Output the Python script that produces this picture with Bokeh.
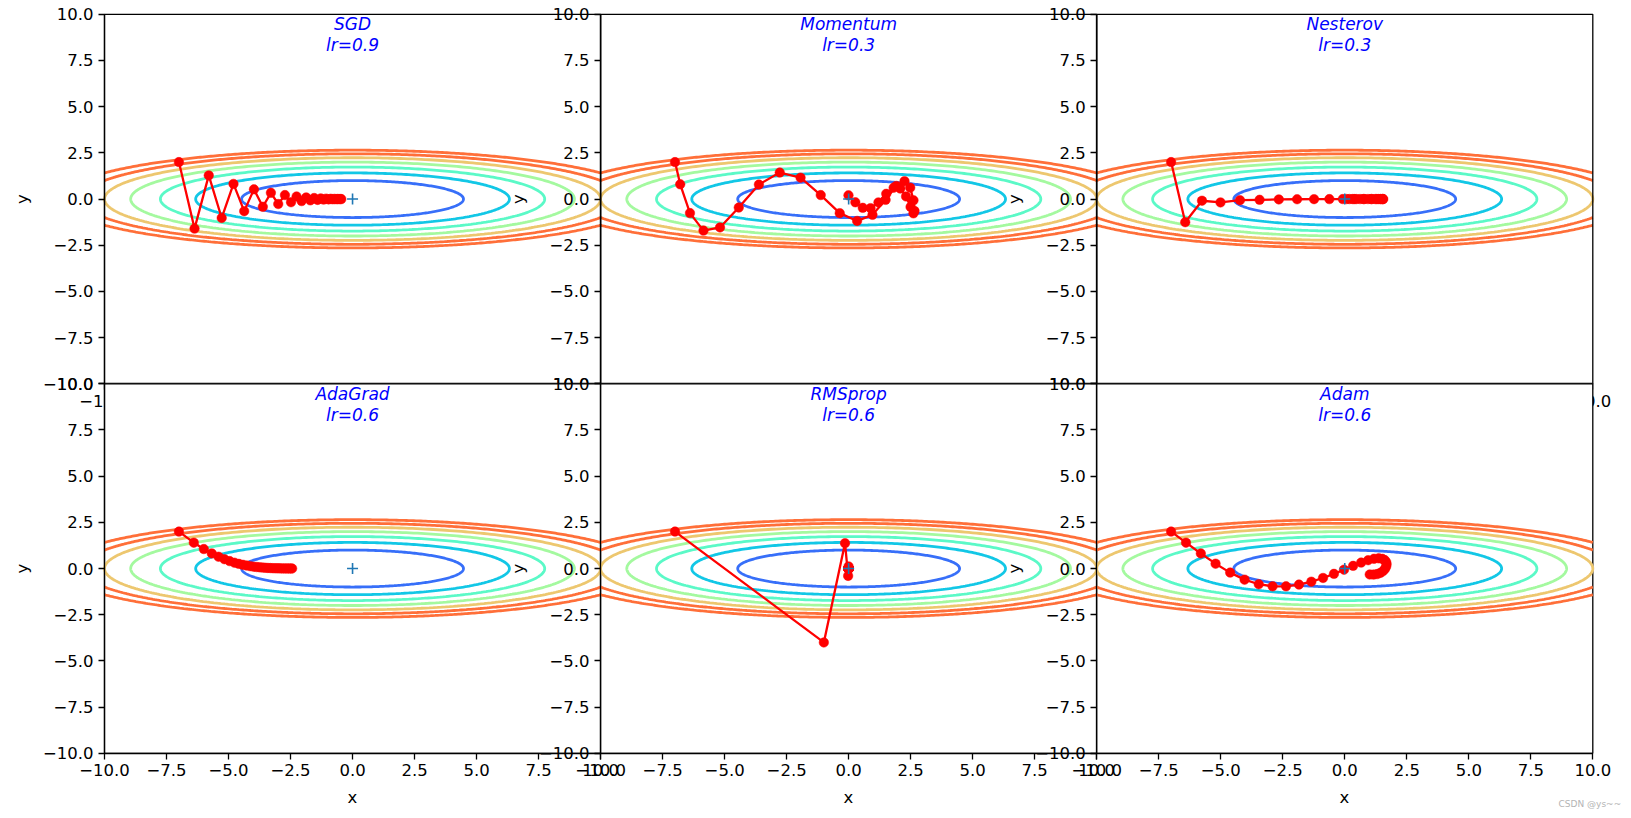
import numpy as np
from bokeh.plotting import figure
from bokeh.models import (Range1d, LinearAxis, FixedTicker, CustomJSTickFormatter,
                          BoxAnnotation, Label)
from bokeh.embed import file_html
from bokeh.resources import INLINE
from bokeh.core.properties import value

# ---------------- data ----------------
optimizer_names = ["SGD", "Momentum", "Nesterov", "AdaGrad", "RMSprop", "Adam"]
learning_rates = [0.9, 0.3, 0.3, 0.6, 0.6, 0.6]

sgd_x = [-7.0, -6.37, -5.797, -5.275, -4.8, -4.368, -3.975, -3.617, -3.292, -2.996,
         -2.726, -2.481, -2.257, -2.054, -1.869, -1.701, -1.548, -1.409, -1.282, -1.167,
         -1.062, -0.966, -0.879, -0.8, -0.728, -0.662, -0.603, -0.549, -0.499, -0.454]
sgd_y = [2.0, -1.6, 1.28, -1.024, 0.819, -0.655, 0.524, -0.419, 0.336, -0.268,
         0.215, -0.172, 0.137, -0.11, 0.088, -0.07, 0.056, -0.045, 0.036, -0.029,
         0.023, -0.018, 0.015, -0.012, 0.009, -0.008, 0.006, -0.005, 0.004, -0.003]

momentum_x = [-7.0, -6.79, -6.397, -5.852, -5.186, -4.43, -3.618, -2.778, -1.938, -1.125,
              -0.359, 0.341, 0.961, 1.49, 1.921, 2.252, 2.482, 2.615, 2.655, 2.613,
              2.496, 2.315, 2.084, 1.813, 1.515, 1.201, 0.882, 0.569, 0.27, -0.007]
momentum_y = [2.0, 0.8, -0.76, -1.708, -1.536, -0.46, 0.785, 1.434, 1.158, 0.215,
              -0.763, -1.185, -0.854, -0.044, 0.712, 0.965, 0.614, -0.071, -0.644, -0.774,
              -0.426, 0.142, 0.569, 0.611, 0.283, -0.183, -0.492, -0.475, -0.175, 0.2]

nesterov_x = [-7.0, -6.431, -5.755, -5.009, -4.225, -3.433, -2.658, -1.921, -1.237, -0.62,
              -0.077, 0.385, 0.766, 1.067, 1.29, 1.44, 1.525, 1.551, 1.527, 1.46,
              1.36, 1.234, 1.09, 0.935, 0.776, 0.617, 0.464, 0.32, 0.189, 0.071]
nesterov_y = [2.0, -1.252, -0.091, -0.183, -0.062, -0.04, -0.019, -0.01, -0.005, -0.003,
              -0.001, -0.001, 0.0, 0.0, 0.0, 0.0, 0.0, 0.0, 0.0, 0.0,
              0.0, 0.0, 0.0, 0.0, 0.0, 0.0, 0.0, 0.0, 0.0, 0.0]

adagrad_x = [-7.0, -6.4, -5.995, -5.675, -5.404, -5.167, -4.955, -4.762, -4.586, -4.422,
             -4.269, -4.126, -3.991, -3.864, -3.743, -3.628, -3.518, -3.414, -3.314, -3.218,
             -3.126, -3.038, -2.953, -2.871, -2.792, -2.716, -2.642, -2.571, -2.502, -2.436]
adagrad_y = [2.0, 1.4, 1.056, 0.818, 0.641, 0.507, 0.402, 0.319, 0.254, 0.203,
             0.162, 0.129, 0.103, 0.082, 0.066, 0.052, 0.042, 0.033, 0.027, 0.021,
             0.017, 0.014, 0.011, 0.009, 0.007, 0.006, 0.004, 0.004, 0.003, 0.002]

rmsprop_x = [-7.0, -1.0, -0.147, -0.021, -0.003, 0.0, 0.0, 0.0, 0.0, 0.0,
             0.0, 0.0, 0.0, 0.0, 0.0, 0.0, 0.0, 0.0, 0.0, 0.0,
             0.0, 0.0, 0.0, 0.0, 0.0, 0.0, 0.0, 0.0, 0.0, 0.0]
rmsprop_y = [2.0, -4.0, 1.372, -0.397, 0.116, -0.034, 0.01, -0.003, 0.001, 0.0,
             0.0, 0.0, 0.0, 0.0, 0.0, 0.0, 0.0, 0.0, 0.0, 0.0,
             0.0, 0.0, 0.0, 0.0, 0.0, 0.0, 0.0, 0.0, 0.0, 0.0]

adam_x = [-7.0, -6.4, -5.802, -5.208, -4.619, -4.038, -3.467, -2.909, -2.367, -1.845,
          -1.346, -0.875, -0.435, -0.029, 0.337, 0.662, 0.943, 1.179, 1.369, 1.513,
          1.612, 1.67, 1.687, 1.668, 1.616, 1.536, 1.43, 1.304, 1.162, 1.007]
adam_y = [2.0, 1.4, 0.815, 0.264, -0.22, -0.6, -0.849, -0.963, -0.961, -0.869,
          -0.711, -0.51, -0.288, -0.063, 0.145, 0.321, 0.452, 0.529, 0.553, 0.527,
          0.457, 0.354, 0.231, 0.098, -0.032, -0.147, -0.239, -0.3, -0.327, -0.322]

paths_x = [sgd_x, momentum_x, nesterov_x, adagrad_x, rmsprop_x, adam_x]
paths_y = [sgd_y, momentum_y, nesterov_y, adagrad_y, rmsprop_y, adam_y]

# contour levels of f(x, y) = x**2 / 20 + y**2 (values above 7 masked)
x_divisor = 20.0
contour_levels = [1, 2, 3, 4, 5, 6]
contour_colors = ["#376ff9", "#12c7e6", "#5bf9c7", "#a4f99f", "#edc76f", "#ff6f39"]
mask_level = 7
mask_color = "#ff6f39"

axis_ticks = [-10.0, -7.5, -5.0, -2.5, 0.0, 2.5, 5.0, 7.5, 10.0]
minimum_x = [0.0]
minimum_y = [0.0]
axis_limit = 10.0

# ---------------- layout (pixels of the page) ----------------
W, H = 1631, 818
PANEL_LEFT_PX = 104.0       # left edge of the first column
PANEL_W_PX = 496.1          # width of one panel
MID_PX = 383.3              # boundary between the two rows
PANEL_H_PX = 369.5          # height of one panel
sx = PANEL_W_PX / 20.0      # px per data unit
sy = PANEL_H_PX / 20.0
x0 = -10.0 - PANEL_LEFT_PX / sx
x1 = x0 + W / sx
y1 = -10.0 + MID_PX / sy
y0 = y1 - H / sy

p = figure(width=W, height=H, output_backend="svg", toolbar_location=None, tools="",
           x_range=Range1d(x0, x1), y_range=Range1d(y0, y1),
           x_axis_location=None, y_axis_location=None,
           min_border_left=0, min_border_right=0, min_border_top=0, min_border_bottom=0)
p.outline_line_color = None
p.grid.visible = False
p.background_fill_color = "white"
p.border_fill_color = "white"

for c in range(3):
    p.extra_x_ranges[f"c{c}"] = Range1d(x0 - 20 * c, x1 - 20 * c)
for r in range(2):
    p.extra_y_ranges[f"r{r}"] = Range1d(y0 + 20 * r, y1 + 20 * r)

fmt = CustomJSTickFormatter(code="return (tick < 0 ? '\\u2212' : '') + Math.abs(tick).toFixed(1);")

FONT = "DejaVu Sans"


def level_arcs(level):
    a = np.sqrt(x_divisor * level)
    b = np.sqrt(level)
    if a <= axis_limit:
        t = np.linspace(0, 2 * np.pi, 361)
        return [list(a * np.cos(t))], [list(b * np.sin(t))]
    t0 = np.arccos(axis_limit / a)
    t = np.linspace(t0, np.pi - t0, 241)
    xs = a * np.cos(t)
    ys = b * np.sin(t)
    return [list(xs), list(xs)], [list(ys), list(-ys)]


def style_axis(ax, lvl):
    ax.ticker = FixedTicker(ticks=axis_ticks)
    ax.formatter = fmt
    ax.bounds = (-10, 10)
    ax.major_tick_in = 0
    ax.major_tick_out = 6
    ax.minor_tick_in = 0
    ax.minor_tick_out = 0
    ax.axis_line_color = "black"
    ax.axis_line_width = 1.3
    ax.major_tick_line_color = "black"
    ax.major_tick_line_width = 1.3
    ax.major_label_text_font = FONT
    ax.major_label_text_font_size = "16.5px"
    ax.major_label_text_color = "black"
    ax.major_label_standoff = 5
    ax.axis_label_text_font = FONT
    ax.axis_label_text_font_size = "16.5px"
    ax.axis_label_text_font_style = "normal"
    ax.axis_label_text_color = "black"
    ax.level = lvl


for k, name in enumerate(optimizer_names):
    r, c = divmod(k, 3)
    xr, yr = f"c{c}", f"r{r}"
    glyph_level = "underlay" if r == 0 else "annotation"
    guide_level = "glyph" if r == 0 else "annotation"
    left = -10 + 20 * c
    top = 10 - 20 * r

    if r == 1:
        # panel background covering the upper row's x tick labels
        p.add_layout(BoxAnnotation(left=left, right=left + 20, bottom=top - 20, top=top,
                                   fill_color="white", fill_alpha=1.0,
                                   line_color="black", line_alpha=1.0, line_dash="solid",
                                   line_width=1.3, level="guide"))
    else:
        p.add_layout(BoxAnnotation(left=left, right=left + 20, bottom=top - 20, top=top,
                                   fill_alpha=0.0, line_color="black", line_alpha=1.0,
                                   line_dash="solid", line_width=1.3, level="glyph"))

    # contour lines
    mxs, mys = level_arcs(mask_level)
    p.multi_line(xs=mxs, ys=mys, line_color=mask_color, line_width=2.8,
                 x_range_name=xr, y_range_name=yr, level=glyph_level)
    for lev, col in zip(contour_levels, contour_colors):
        xs, ys = level_arcs(lev)
        p.multi_line(xs=xs, ys=ys, line_color=col, line_width=2.8,
                     x_range_name=xr, y_range_name=yr, level=glyph_level)

    # optimisation path
    p.line(paths_x[k], paths_y[k], line_color="red", line_width=2.3,
           x_range_name=xr, y_range_name=yr, level=glyph_level)
    p.scatter(paths_x[k], paths_y[k], marker="circle", size=9.5, fill_color="red",
              line_color="red", line_width=0.5,
              x_range_name=xr, y_range_name=yr, level=glyph_level)

    # minimum marker
    p.scatter(minimum_x, minimum_y, marker="cross", size=11, line_color="#1f77b4",
              line_width=1.6, x_range_name=xr, y_range_name=yr, level=glyph_level)

    # title text
    p.text(x=[0.0], y=[axis_limit], text=[f"{name}\nlr={learning_rates[k]}"],
           text_align="center", text_baseline="top", text_color="blue",
           text_font=value(FONT), text_font_style="italic", text_font_size="17px",
           text_line_height=1.05, y_offset=0,
           x_range_name=xr, y_range_name=yr, level=glyph_level)

    # y axis of the panel
    yax = LinearAxis(y_range_name=yr, fixed_location=left, axis_label="y")
    style_axis(yax, guide_level)
    yax.axis_label_standoff = 8
    p.add_layout(yax, "left")

    # x axis of the panel
    xax = LinearAxis(x_range_name=xr, fixed_location=top - 20,
                     axis_label=("x" if r == 1 else None))
    style_axis(xax, guide_level)
    xax.axis_label_standoff = 8
    p.add_layout(xax, "below")

p.add_layout(Label(x=48.62, y=-32.72, text="CSDN @ys~~", text_font=FONT,
                   text_font_size="9px", text_color="#b4b4b4",
                   text_align="left", text_baseline="middle"))

with open("out.html", "w", encoding="utf-8") as fh:
    fh.write(file_html(p, INLINE))
